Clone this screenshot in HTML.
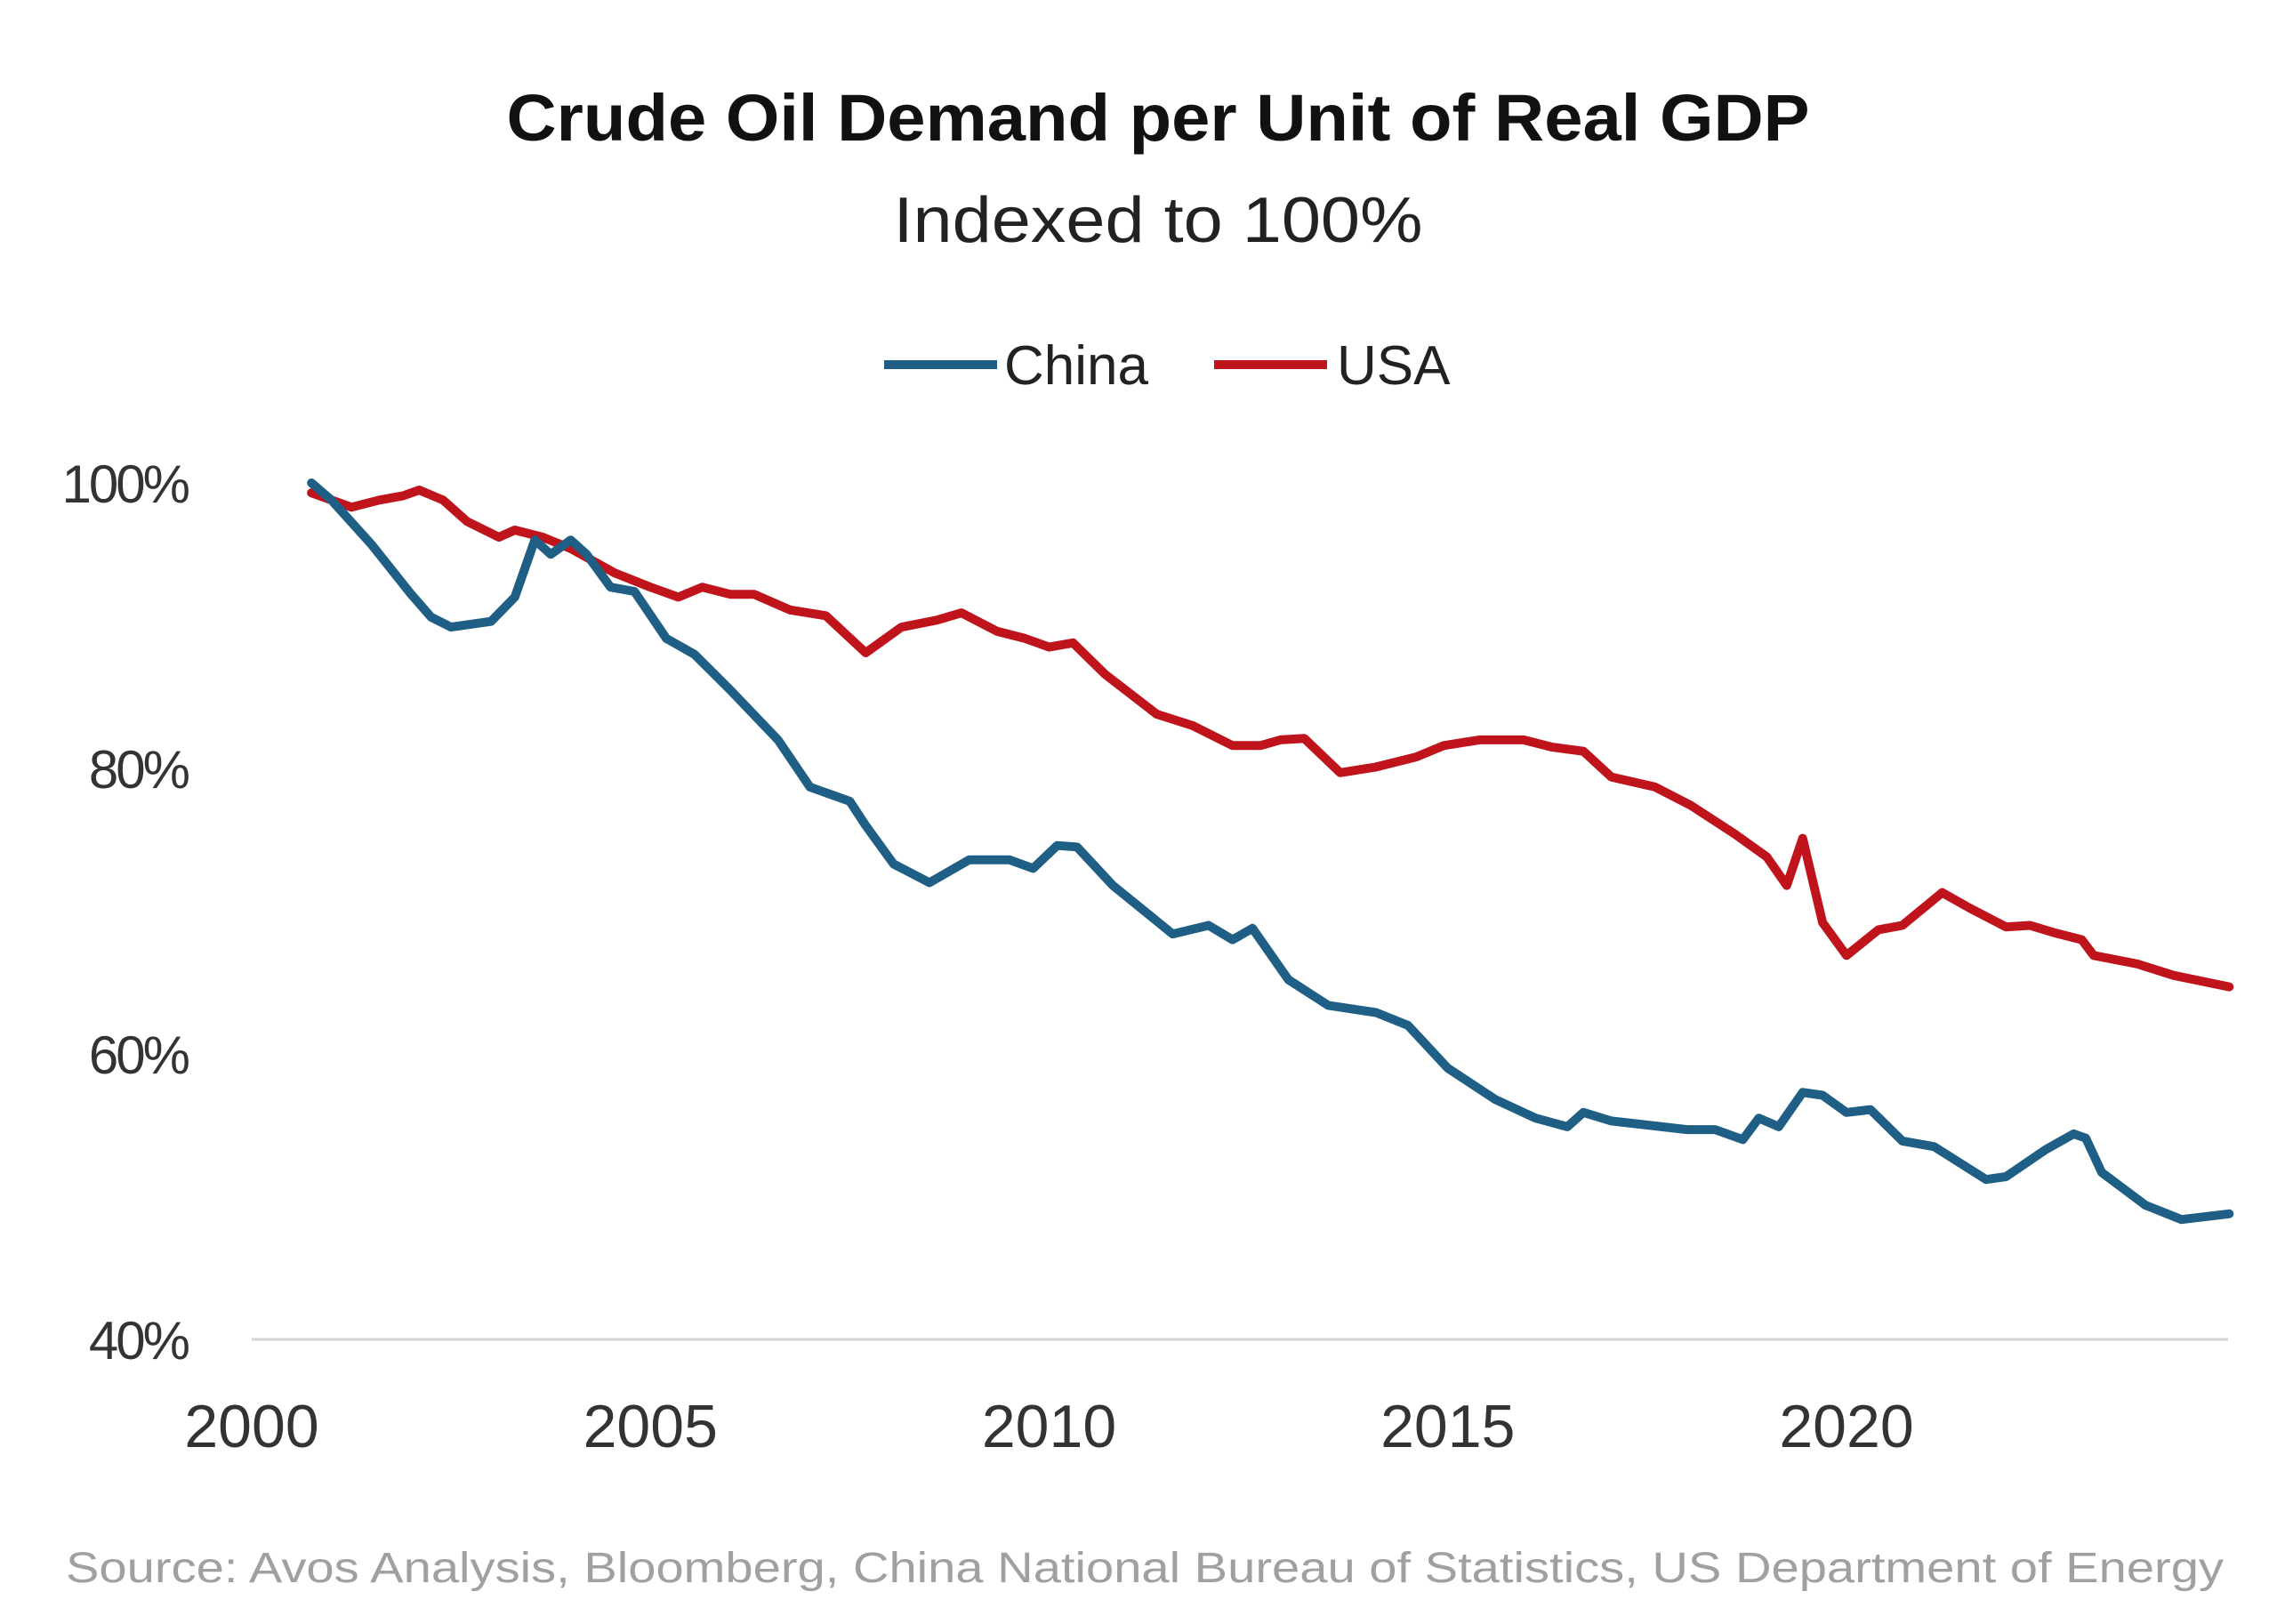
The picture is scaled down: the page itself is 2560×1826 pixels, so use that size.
<!DOCTYPE html>
<html><head><meta charset="utf-8"><style>
html,body{margin:0;padding:0;background:#fff;}
svg{display:block;font-family:"Liberation Sans",sans-serif;}
</style></head><body>
<svg id="chart" width="2560" height="1826" viewBox="0 0 2560 1826" xmlns="http://www.w3.org/2000/svg">
<rect width="2560" height="1826" fill="#fff"/>
<text x="1302" y="158" text-anchor="middle" font-size="74" font-weight="bold" fill="#111" textLength="1465" lengthAdjust="spacingAndGlyphs">Crude Oil Demand per Unit of Real GDP</text>
<text x="1302" y="272" text-anchor="middle" font-size="72" fill="#222" textLength="595" lengthAdjust="spacingAndGlyphs">Indexed to 100%</text>
<g>
<line x1="994" y1="410" x2="1121" y2="410" stroke="#1f5f85" stroke-width="10"/>
<text x="1129" y="432" font-size="62" fill="#222">China</text>
<line x1="1365" y1="410" x2="1492" y2="410" stroke="#c0141c" stroke-width="10"/>
<text x="1503" y="432" font-size="62" fill="#222">USA</text>
</g>
<line x1="283" y1="1506" x2="2505" y2="1506" stroke="#d4d4d4" stroke-width="3"/>
<g id="yticks"></g>
<g id="xticks"></g>
<g id="series"></g>
<text x="74" y="1779" font-size="48" fill="#a0a0a0" textLength="2426" lengthAdjust="spacingAndGlyphs">Source: Avos Analysis, Bloomberg, China National Bureau of Statistics, US Department of Energy</text>
</svg>
<script>
const yTicks = [100, 80, 60, 40];
const xTicks = [2000, 2005, 2010, 2015, 2020];
const chinaYears = [2000.75,2001.0,2001.5,2002.0,2002.25,2002.5,2003.0,2003.3,2003.55,2003.75,2004.0,2004.2,2004.5,2004.8,2005.2,2005.55,2006.0,2006.6,2007.0,2007.5,2007.7,2008.05,2008.5,2009.0,2009.5,2009.8,2010.1,2010.35,2010.8,2011.55,2012.0,2012.3,2012.55,2013.0,2013.5,2014.1,2014.5,2015.0,2015.6,2016.1,2016.5,2016.7,2017.05,2018.0,2018.35,2018.7,2018.9,2019.15,2019.45,2019.7,2020.0,2020.3,2020.7,2021.1,2021.75,2022.0,2022.5,2022.85,2023.0,2023.2,2023.75,2024.2,2024.8];
const chinaValues = [100,98.8,95.7,92.2,90.6,89.9,90.3,92,96,95,96,95,92.7,92.4,89.1,88,85.5,82,78.7,77.7,76,73.3,72,73.6,73.6,73,74.6,74.5,71.8,68.4,69,68,68.8,65.2,63.4,62.9,62,59,56.8,55.5,54.9,55.9,55.3,54.7,54.7,54,55.5,54.9,57.3,57.1,55.9,56.1,53.9,53.5,51.2,51.4,53.3,54.4,54.1,51.7,49.4,48.4,48.8];
const usaYears = [2000.75,2001.25,2001.6,2001.9,2002.1,2002.4,2002.7,2003.1,2003.3,2003.65,2004.0,2004.55,2005.0,2005.35,2005.65,2006.0,2006.3,2006.75,2007.2,2007.7,2008.15,2008.6,2008.9,2009.35,2009.7,2010.0,2010.3,2010.7,2011.35,2011.8,2012.3,2012.65,2012.9,2013.2,2013.65,2014.1,2014.6,2014.95,2015.4,2015.95,2016.3,2016.7,2017.05,2017.6,2018.05,2018.6,2019.0,2019.25,2019.45,2019.7,2020.0,2020.4,2020.7,2021.2,2021.55,2022.0,2022.3,2022.6,2022.95,2023.1,2023.65,2024.1,2024.8];
const usaValues = [99.3,98.3,98.8,99.1,99.5,98.8,97.3,96.2,96.7,96.2,95.4,93.7,92.7,92,92.7,92.2,92.2,91.1,90.7,88.1,89.9,90.4,90.9,89.6,89.1,88.5,88.8,86.6,83.8,83,81.6,81.6,82,82.1,79.7,80.1,80.8,81.6,82,82,81.5,81.2,79.4,78.7,77.4,75.4,73.8,71.8,75.1,69.2,66.9,68.7,69,71.3,70.2,68.9,69,68.5,68,66.9,66.3,65.5,64.7];
</script>
<script>
const NS = "http://www.w3.org/2000/svg";
function xScale(yr){ return 283 + (yr - 2000) * 89.65; }
function yScale(v){ return 543 + (100 - v) * 16.05; }
const yg = document.getElementById('yticks');
yTicks.forEach(function(t){
  const el = document.createElementNS(NS,'text');
  
  
  el.setAttribute('x', 211);
  el.setAttribute('y', yScale(t) + 22);
  el.setAttribute('text-anchor', 'end');
  el.setAttribute('font-size', '60');
  el.setAttribute('fill', '#333');
  el.setAttribute('letter-spacing', '-3');
  el.textContent = t + '%';
  yg.appendChild(el);
});
const xg = document.getElementById('xticks');
xTicks.forEach(function(t){
  const el = document.createElementNS(NS,'text');
  
  
  el.setAttribute('x', xScale(t));
  el.setAttribute('y', 1627);
  el.setAttribute('text-anchor', 'middle');
  el.setAttribute('font-size', '68');
  el.setAttribute('fill', '#333');
  el.textContent = t;
  xg.appendChild(el);
});
function drawLine(years, vals, color, name){
  const p = document.createElementNS(NS,'path');
  let d = '';
  const n = Math.min(years.length, vals.length);
  for (let i = 0; i < n; i++) { d += (i ? 'L' : 'M') + xScale(years[i]).toFixed(1) + ' ' + yScale(vals[i]).toFixed(1); }
  p.setAttribute('d', d);
  p.setAttribute('fill', 'none');
  p.setAttribute('stroke', color);
  p.setAttribute('stroke-width', '10');
  p.setAttribute('stroke-linejoin', 'round');
  p.setAttribute('stroke-linecap', 'round');
  
  
  document.getElementById('series').appendChild(p);
}
drawLine(usaYears, usaValues, '#c0141c', 'usa-line');
drawLine(chinaYears, chinaValues, '#1f5f85', 'china-line');
</script>
</body></html>
